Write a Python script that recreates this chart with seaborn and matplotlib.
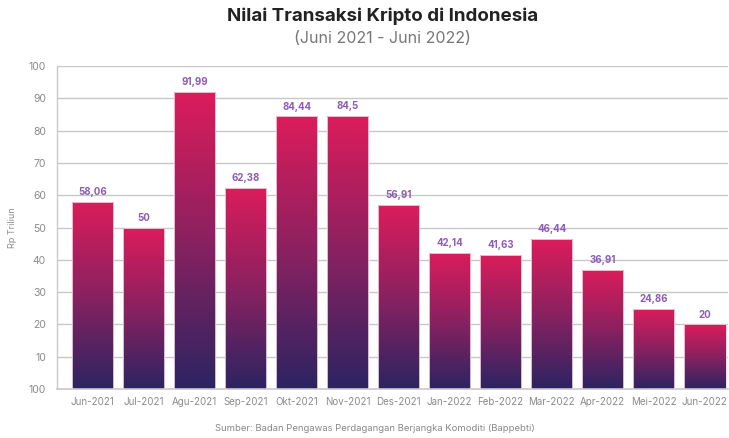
import numpy as np
import pandas as pd
import matplotlib
matplotlib.use("Agg")
import matplotlib.pyplot as plt
from matplotlib.colors import LinearSegmentedColormap
import seaborn as sns

# data
bulan = ["Jun-2021", "Jul-2021", "Agu-2021", "Sep-2021", "Okt-2021", "Nov-2021",
         "Des-2021", "Jan-2022", "Feb-2022", "Mar-2022", "Apr-2022", "Mei-2022", "Jun-2022"]
nilai = [58.06, 50, 91.99, 62.38, 84.44, 84.5, 56.91, 42.14, 41.63, 46.44, 36.91, 24.86, 20]
label_nilai = ["58,06", "50", "91,99", "62,38", "84,44", "84,5", "56,91",
               "42,14", "41,63", "46,44", "36,91", "24,86", "20"]
y_ticks = [0, 10, 20, 30, 40, 50, 60, 70, 80, 90, 100]
y_ticklabels = ["100", "10", "20", "30", "40", "50", "60", "70", "80", "90", "100"]

df = pd.DataFrame({"bulan": bulan, "nilai": nilai})

sns.set_style("white")
plt.rcParams["font.family"] = ["Inter", "DejaVu Sans"]

fig = plt.figure(figsize=(7.29, 4.38), dpi=100)
ax = fig.add_axes([0.078, 0.112, 0.92, 0.737])

sns.barplot(data=df, x="bulan", y="nilai", ax=ax, width=0.82,
            color="#999999", edgecolor="#f3d6e2", linewidth=0.6)

# per-bar vertical gradient (pink top -> navy bottom)
cmap = LinearSegmentedColormap.from_list("kripto", ["#2c2462", "#8a2160", "#dc1c5b"])
grad = np.linspace(0, 1, 256).reshape(-1, 1)
for p in ax.patches:
    x0, y0 = p.get_x(), p.get_y()
    w, h = p.get_width(), p.get_height()
    im = ax.imshow(grad, cmap=cmap, aspect="auto", origin="lower",
                   extent=[x0, x0 + w, y0, y0 + h], zorder=2)
    im.set_clip_path(p)
    p.set_facecolor("none")
    p.set_zorder(3)

ax.set_xlim(-0.7, 12.45)
ax.set_ylim(0, 100)

for i, (v, lab) in enumerate(zip(nilai, label_nilai)):
    ax.text(i, v + 1.5, lab, ha="center", va="bottom", fontsize=7,
            fontweight="bold", color="#8d5cb8", zorder=4)

ax.set_yticks(y_ticks)
ax.set_yticklabels(y_ticklabels, fontsize=7.5, color="#8a8a8a")
ax.yaxis.grid(True, color="#c8c8c8", linewidth=1)
ax.set_axisbelow(True)
ax.tick_params(axis="y", length=5, color="#c8c8c8", pad=3)
ax.tick_params(axis="x", length=0, labelsize=7, labelcolor="#8a8a8a", pad=6)

for s in ["top", "right"]:
    ax.spines[s].set_visible(False)
ax.spines["left"].set_color("#c8c8c8")
ax.spines["bottom"].set_color("#c8c8c8")
ax.spines["left"].set_linewidth(1)
ax.spines["bottom"].set_linewidth(1.2)

ax.set_xlabel("")
ax.set_ylabel("Rp Triliun", fontsize=6.5, color="#8a8a8a", labelpad=8)

fig.text(0.525, 0.962, "Nilai Transaksi Kripto di Indonesia", ha="center", va="center",
         fontsize=13.5, fontweight="bold", color="#222222")
fig.text(0.525, 0.913, "(Juni 2021 - Juni 2022)", ha="center", va="center",
         fontsize=11.5, color="#777777")
fig.text(0.514, 0.012, "Sumber: Badan Pengawas Perdagangan Berjangka Komoditi (Bappebti)",
         ha="center", va="bottom", fontsize=6.8, color="#888888")

fig.savefig("out.png", dpi=100)
